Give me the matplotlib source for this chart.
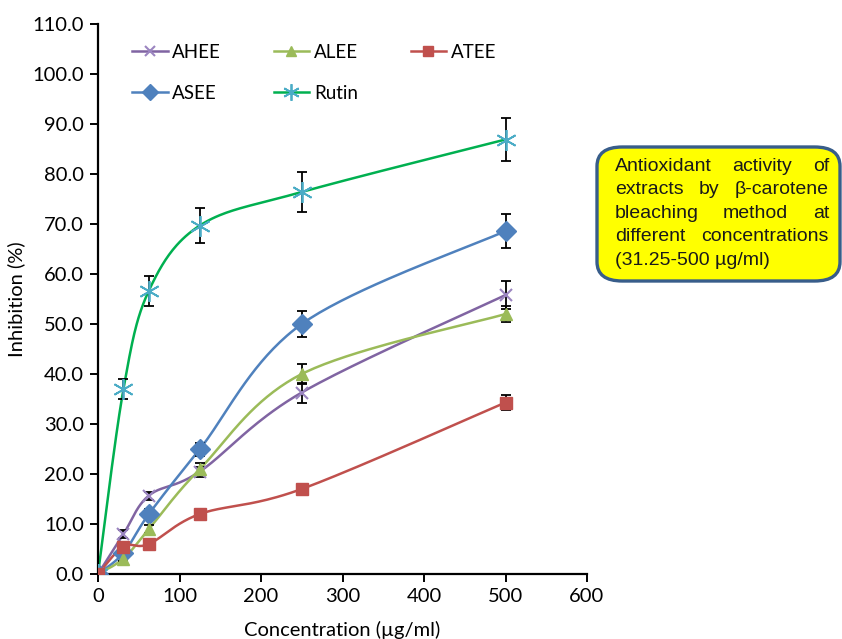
import numpy as np
import matplotlib
matplotlib.use("Agg")
import matplotlib.pyplot as plt
from matplotlib.patches import FancyBboxPatch

conc = [0, 31.25, 62.5, 125, 250, 500]
ahee = [0, 8.0, 15.7, 20.5, 36.3, 55.8]
ahee_err = [0, 0.8, 0.8, 1.0, 2.0, 2.8]
alee = [0, 3.1, 9.0, 21.0, 40.0, 52.0]
alee_err = [0, 0.5, 0.8, 1.2, 2.0, 1.6]
atee = [0, 5.5, 6.0, 12.0, 17.0, 34.3]
atee_err = [0, 0.5, 0.5, 0.5, 0.5, 1.5]
asee = [0, 4.2, 12.0, 25.0, 50.0, 68.6]
asee_err = [0, 0.8, 1.0, 1.3, 2.6, 3.4]
rutin = [0, 37.0, 56.7, 69.7, 76.4, 86.9]
rutin_err = [0, 2.0, 3.0, 3.5, 4.0, 4.3]

yticks = np.arange(0, 110.1, 10)
xticks = np.arange(0, 601, 100)
note_lines = ["Antioxidant activity of", "extracts by \u03b2-carotene", "bleaching method at",
              "different concentrations", "(31.25-500 \u00b5g/ml)"]

FONT = ["Lato", "DejaVu Sans"]

fig = plt.figure(figsize=(8.42, 6.39), dpi=100)
ax = fig.add_axes([98/842, 1-574/639, (587-98)/842, (574-24)/639])

SX, SY = 489/600, 550/110


def smooth(xs, ys, n=40):
    px = np.array(xs) * SX
    py = np.array(ys) * SY
    out_x, out_y = [], []
    m = len(px)
    for i in range(m - 1):
        p0 = (px[max(i-1, 0)], py[max(i-1, 0)])
        p1 = (px[i], py[i])
        p2 = (px[i+1], py[i+1])
        p3 = (px[min(i+2, m-1)], py[min(i+2, m-1)])
        c1 = (p1[0] + (p2[0]-p0[0])/6, p1[1] + (p2[1]-p0[1])/6)
        c2 = (p2[0] - (p3[0]-p1[0])/6, p2[1] - (p3[1]-p1[1])/6)
        t = np.linspace(0, 1, n)
        bx = (1-t)**3*p1[0] + 3*(1-t)**2*t*c1[0] + 3*(1-t)*t**2*c2[0] + t**3*p2[0]
        by = (1-t)**3*p1[1] + 3*(1-t)**2*t*c1[1] + 3*(1-t)*t**2*c2[1] + t**3*p2[1]
        out_x.extend(bx)
        out_y.extend(by)
    return np.array(out_x)/SX, np.array(out_y)/SY


series = [
    ("AHEE", ahee, ahee_err, "#8064A2", "x", "#9B85C0", 9, 1.5),
    ("ASEE", asee, asee_err, "#4F81BD", "D", "#4F81BD", 10, 0),
    ("ALEE", alee, alee_err, "#9BBB59", "^", "#9BBB59", 9, 0),
    ("Rutin", rutin, rutin_err, "#00B050", (6, 2, 0), "#4BACC6", 15, 1.3),
    ("ATEE", atee, atee_err, "#C0504D", "s", "#C0504D", 9, 0),
]

handles = []
for name, ys, err, lc, mk, mc, ms, mew in series:
    sx, sy = smooth(conc, ys)
    ax.plot(sx, sy, color=lc, lw=1.8, zorder=2)
    ax.errorbar(conc, ys, yerr=err, fmt="none", ecolor="black", elinewidth=1.3,
                capsize=3.5, capthick=1.3, zorder=3)
    kw = dict(marker=mk, markersize=ms, color=mc, linestyle="none", zorder=4)
    if mew:
        kw["markeredgewidth"] = mew
    else:
        kw["markeredgecolor"] = mc
    ax.plot(conc, ys, **kw)
    h, = ax.plot([], [], color=lc, lw=1.8, marker=mk, markersize=ms*0.8,
                 markerfacecolor=mc, markeredgecolor=mc,
                 markeredgewidth=mew if mew else 1)
    handles.append((h, name))

ax.set_xlim(0, 600)
ax.set_ylim(0, 110)
ax.set_xticks(xticks)
ax.set_yticks(yticks)
ax.set_yticklabels([f"{v:.1f}" for v in yticks], family=FONT, fontsize=14.5)
ax.set_xticklabels([f"{v:d}" for v in xticks], family=FONT, fontsize=14.5)
for s in ("top", "right"):
    ax.spines[s].set_visible(False)
for s in ("left", "bottom"):
    ax.spines[s].set_linewidth(1.6)
    ax.spines[s].set_color("black")
ax.tick_params(axis="both", direction="out", length=6, width=1.4, colors="black", pad=4)
ax.set_ylabel("Inhibition (%)", family=FONT, fontsize=14.5)
ax.set_xlabel("Concentration (\u00b5g/ml)", family=FONT, fontsize=14.5)
ax.xaxis.set_label_coords(0.5, -0.086)
ax.yaxis.set_label_coords(-0.148, 0.5)

leg = ax.legend([h for h, _ in handles], [n for _, n in handles], ncol=3, frameon=False,
                loc="upper left", bbox_to_anchor=(0.035, 0.995), prop={"family": FONT, "size": 13.5},
                handlelength=1.9, handletextpad=0.25, columnspacing=2.8, labelspacing=1.3)

# note box
box = FancyBboxPatch((597/842, 1-281/639), (840-597)/842, (281-147)/639,
                     boxstyle="round,pad=0,rounding_size=0.03", transform=fig.transFigure,
                     facecolor="#FFFF00", edgecolor="#385D8A", linewidth=2.4, zorder=5)
fig.patches.append(box)

renderer = fig.canvas.get_renderer()
left_px, right_px = 615, 829
top_px = 171
step = 23.4
tprops = dict(family=["Liberation Sans", "DejaVu Sans"], fontsize=14, color="#1a1a1a", zorder=6,
              va="baseline", ha="left", transform=fig.transFigure)
for i, line in enumerate(note_lines):
    y = 1 - (top_px + i*step)/639
    words = line.split(" ")
    if i == len(note_lines) - 1 or len(words) == 1:
        fig.text(left_px/842, y, line, **tprops)
        continue
    widths = []
    for w in words:
        t = fig.text(0, 0, w, **tprops)
        widths.append(t.get_window_extent(renderer).width)
        t.remove()
    gap = ((right_px - left_px) - sum(widths)) / (len(words) - 1)
    x = left_px
    for w, wd in zip(words, widths):
        fig.text(x/842, y, w, **tprops)
        x += wd + gap

fig.savefig("out.png", dpi=100, facecolor="white")
